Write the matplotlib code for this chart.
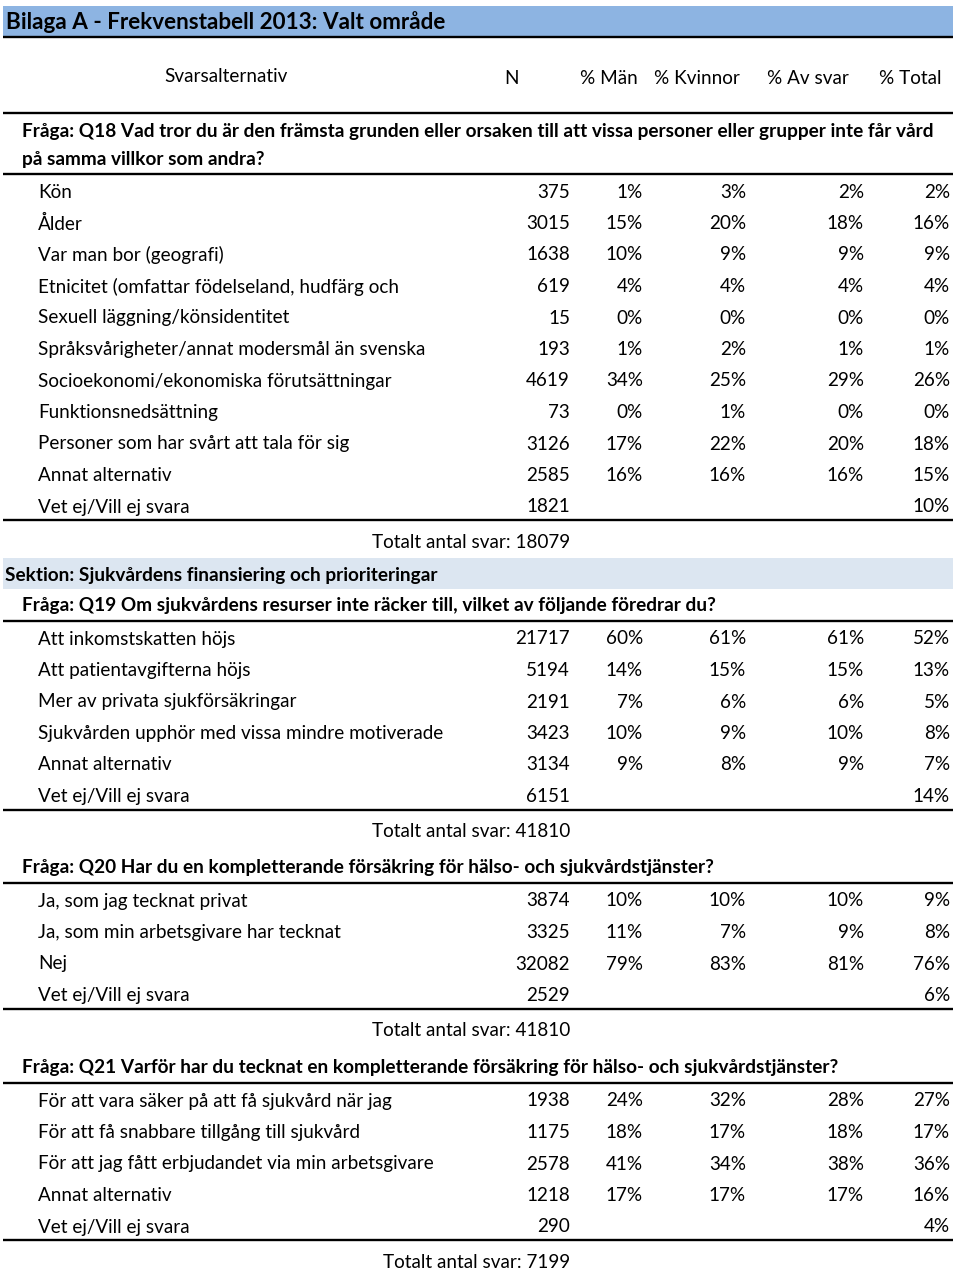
import matplotlib
matplotlib.use("Agg")
import matplotlib.pyplot as plt
from matplotlib.patches import Rectangle

FONT = ["Lato", "DejaVu Sans"]

title = "Bilaga A - Frekvenstabell 2013: Valt område"
headers = ["Svarsalternativ", "N", "% Män", "% Kvinnor", "% Av svar", "% Total"]
section_title = "Sektion: Sjukvårdens finansiering och prioriteringar"

q18_title = ["Fråga: Q18 Vad tror du är den främsta grunden eller orsaken till att vissa personer eller grupper inte får vård",
             "på samma villkor som andra?"]
q18_labels = ["Kön", "Ålder", "Var man bor (geografi)", "Etnicitet (omfattar födelseland, hudfärg och",
              "Sexuell läggning/könsidentitet", "Språksvårigheter/annat modersmål än svenska",
              "Socioekonomi/ekonomiska förutsättningar", "Funktionsnedsättning",
              "Personer som har svårt att tala för sig", "Annat alternativ", "Vet ej/Vill ej svara"]
q18_n = [375, 3015, 1638, 619, 15, 193, 4619, 73, 3126, 2585, 1821]
q18_man = [1, 15, 10, 4, 0, 1, 34, 0, 17, 16, None]
q18_kvinnor = [3, 20, 9, 4, 0, 2, 25, 1, 22, 16, None]
q18_avsvar = [2, 18, 9, 4, 0, 1, 29, 0, 20, 16, None]
q18_total = [2, 16, 9, 4, 0, 1, 26, 0, 18, 15, 10]
q18_sum = 18079

q19_title = ["Fråga: Q19 Om sjukvårdens resurser inte räcker till, vilket av följande föredrar du?"]
q19_labels = ["Att inkomstskatten höjs", "Att patientavgifterna höjs", "Mer av privata sjukförsäkringar",
              "Sjukvården upphör med vissa mindre motiverade", "Annat alternativ", "Vet ej/Vill ej svara"]
q19_n = [21717, 5194, 2191, 3423, 3134, 6151]
q19_man = [60, 14, 7, 10, 9, None]
q19_kvinnor = [61, 15, 6, 9, 8, None]
q19_avsvar = [61, 15, 6, 10, 9, None]
q19_total = [52, 13, 5, 8, 7, 14]
q19_sum = 41810

q20_title = ["Fråga: Q20 Har du en kompletterande försäkring för hälso- och sjukvårdstjänster?"]
q20_labels = ["Ja, som jag tecknat privat", "Ja, som min arbetsgivare har tecknat", "Nej", "Vet ej/Vill ej svara"]
q20_n = [3874, 3325, 32082, 2529]
q20_man = [10, 11, 79, None]
q20_kvinnor = [10, 7, 83, None]
q20_avsvar = [10, 9, 81, None]
q20_total = [9, 8, 76, 6]
q20_sum = 41810

q21_title = ["Fråga: Q21 Varför har du tecknat en kompletterande försäkring för hälso- och sjukvårdstjänster?"]
q21_labels = ["För att vara säker på att få sjukvård när jag", "För att få snabbare tillgång till sjukvård",
              "För att jag fått erbjudandet via min arbetsgivare", "Annat alternativ", "Vet ej/Vill ej svara"]
q21_n = [1938, 1175, 2578, 1218, 290]
q21_man = [24, 18, 41, 17, None]
q21_kvinnor = [32, 17, 34, 17, None]
q21_avsvar = [28, 18, 38, 17, None]
q21_total = [27, 17, 36, 16, 4]
q21_sum = 7199

# ---------------- layout ----------------
W, H = 960, 1274
fig = plt.figure(figsize=(W / 100, H / 100), dpi=100)
ax = fig.add_axes([0, 0, 1, 1])
ax.set_xlim(0, W)
ax.set_ylim(H, 0)
ax.axis("off")

FS = 13.6
FS_B = 13.7
FS_T = 16.2
X0, X1 = 3, 953
LW = 1.7
ROW = 31.5
DY = 2.0
x_label = 38
x_cols = [570, 643, 746, 864, 950]


def hline(y):
    ax.plot([X0, X1], [y, y], color="black", lw=LW, solid_capstyle="butt")


def txt(x, y, s, **kw):
    kw.setdefault("fontsize", FS)
    ax.text(x, y + DY, s, family=FONT, va="center", **kw)


# title band
ax.add_patch(Rectangle((X0, 6), X1 - X0, 30, facecolor="#8DB4E2", edgecolor="none"))
txt(6, 20.5, title, fontsize=FS_T, fontweight="bold", ha="left")
hline(36.5)

# header
hdr_x = [226, 512, 609, 697, 808, 910]
hdr_y = [75, 77, 76, 76, 76, 76]
for h, hx, hy in zip(headers, hdr_x, hdr_y):
    txt(hx, hy, h, ha="center")
hline(113)


def pct(v):
    return "" if v is None else f"{v}%"


def block(title_lines, y_title, labels, n, man, kv, av, tot, total_sum):
    for i, t in enumerate(title_lines):
        txt(22, y_title + i * 27, t, fontsize=FS_B, fontweight="bold", ha="left")
    y_line = y_title + (len(title_lines) - 1) * 27 + 17
    hline(y_line)
    y = y_line + 16
    for i, lab in enumerate(labels):
        yy = y + i * ROW
        txt(x_label, yy, lab, ha="left")
        vals = [str(n[i]), pct(man[i]), pct(kv[i]), pct(av[i]), pct(tot[i])]
        for xc, v in zip(x_cols, vals):
            txt(xc, yy, v, ha="right")
    y_end = y + (len(labels) - 1) * ROW + 15
    hline(y_end)
    txt(x_cols[0], y_end + 20, f"Totalt antal svar: {total_sum}", ha="right")


block(q18_title, 130, q18_labels, q18_n, q18_man, q18_kvinnor, q18_avsvar, q18_total, q18_sum)

ax.add_patch(Rectangle((X0, 558), X1 - X0, 31, facecolor="#DCE6F1", edgecolor="none"))
txt(5, 573, section_title, fontsize=FS_B, fontweight="bold", ha="left")

block(q19_title, 604, q19_labels, q19_n, q19_man, q19_kvinnor, q19_avsvar, q19_total, q19_sum)
block(q20_title, 866, q20_labels, q20_n, q20_man, q20_kvinnor, q20_avsvar, q20_total, q20_sum)
block(q21_title, 1066, q21_labels, q21_n, q21_man, q21_kvinnor, q21_avsvar, q21_total, q21_sum)

fig.savefig("out.png", dpi=100, facecolor="white")
